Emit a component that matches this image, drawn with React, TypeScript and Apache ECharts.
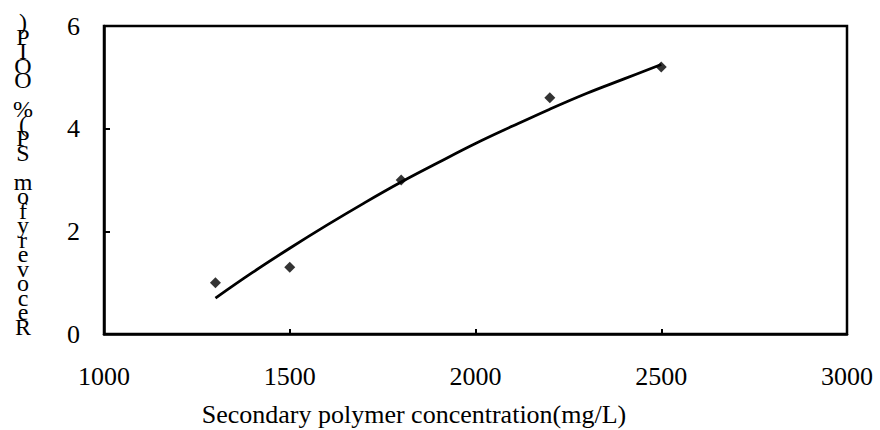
import React, { useEffect, useRef } from "react";
import * as echarts from "echarts";

// Measured data points
const pointX = [1300, 1500, 1800, 2200, 2500];
const pointY = [1.0, 1.3, 3.0, 4.6, 5.2];

// Trend curve
const curveX = [1300, 1400, 1500, 1600, 1700, 1800, 1900, 2000, 2100, 2200, 2300, 2400, 2500];
const curveY = [0.7, 1.2, 1.67, 2.12, 2.55, 2.96, 3.34, 3.71, 4.05, 4.38, 4.69, 4.97, 5.25];

const xAxisTitle = "Secondary polymer concentration(mg/L)";
// Vertical y-axis title, characters as they appear from top to bottom
const yTitleLines = [")", "P", "I", "O", "O", " ", "%", "(", "P", "S", " ", "m", "o", "f", "y", "r", "e", "v", "o", "c", "e", "R"];

const FONT = "'Liberation Serif', 'Times New Roman', serif";

export default function App() {
  const ref = useRef<HTMLDivElement>(null);
  useEffect(() => {
    if (!ref.current) return;
    const chart = echarts.init(ref.current, null, { renderer: "svg" });
    const curve = curveX.map((x, i) => [x, curveY[i]]);
    const pts = pointX.map((x, i) => [x, pointY[i]]);
    chart.setOption({
      animation: false,
      backgroundColor: "#fff",
      grid: {
        left: 104,
        right: 33,
        top: 26,
        bottom: 96,
        show: true,
        borderColor: "#000",
        borderWidth: 2.5,
      },
      xAxis: {
        type: "value",
        min: 1000,
        max: 3000,
        interval: 500,
        axisLine: { show: true, lineStyle: { color: "#000", width: 2.5 } },
        axisTick: { show: true, inside: true, length: 5, lineStyle: { color: "#000", width: 2 } },
        splitLine: { show: false },
        axisLabel: {
          color: "#000",
          fontSize: 26,
          fontFamily: FONT,
          margin: 29,
          formatter: (v: number) => String(v),
        },
      },
      yAxis: {
        type: "value",
        min: 0,
        max: 6,
        interval: 2,
        axisLine: { show: true, lineStyle: { color: "#000", width: 2.5 } },
        axisTick: { show: true, inside: true, length: 6, lineStyle: { color: "#000", width: 2 } },
        splitLine: { show: false },
        axisLabel: {
          color: "#000",
          fontSize: 26,
          fontFamily: FONT,
          margin: 24,
          formatter: (v: number) => String(v),
        },
      },
      series: [
        {
          type: "line",
          data: curve,
          smooth: 0.4,
          showSymbol: false,
          symbol: "none",
          lineStyle: { color: "#000", width: 2.8 },
          z: 2,
        },
        {
          type: "scatter",
          data: pts,
          symbol: "diamond",
          symbolSize: 11,
          itemStyle: { color: "#000" },
          z: 3,
        },
      ],
      graphic: [
        {
          type: "text",
          x: 414,
          y: 414,
          style: {
            text: xAxisTitle,
            fill: "#000",
            font: `26px ${FONT}`,
            align: "center",
            verticalAlign: "middle",
          },
        },
        {
          type: "text",
          x: 23,
          y: 15,
          style: {
            text: yTitleLines.join("\n"),
            fill: "#000",
            font: `24px ${FONT}`,
            lineHeight: 14.5,
            align: "center",
            verticalAlign: "top",
          },
        },
      ],
    });
    return () => chart.dispose();
  }, []);
  return (
    <div
      ref={ref}
      style={{ position: "fixed", left: 0, top: 0, width: 880, height: 430, background: "#fff" }}
    />
  );
}
